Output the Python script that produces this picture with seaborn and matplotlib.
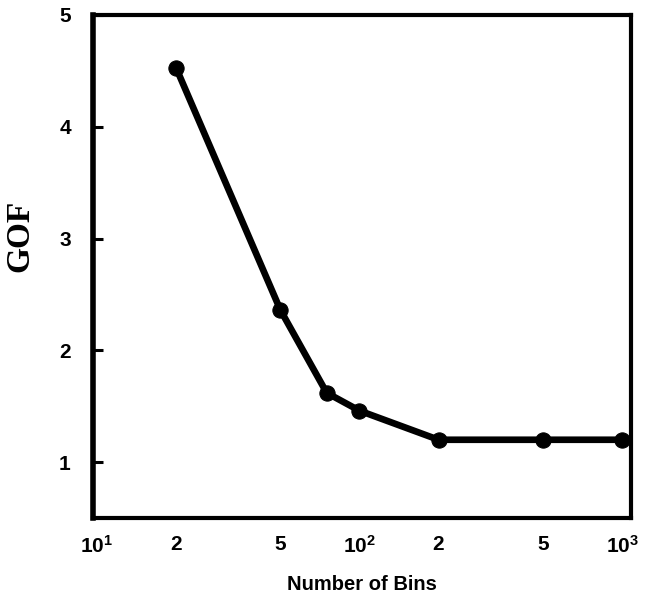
import matplotlib
matplotlib.use("Agg")
import matplotlib.pyplot as plt
import matplotlib.transforms as mtransforms
import seaborn as sns
import pandas as pd

# data
bins = [20, 50, 75, 100, 200, 500, 1000]
gof = [4.53, 2.36, 1.62, 1.46, 1.20, 1.20, 1.20]
x_ticks = [10, 20, 50, 100, 200, 500, 1000]
x_ticklabels = [r"$\mathbf{10^{1}}$", "2", "5", r"$\mathbf{10^{2}}$", "2", "5", r"$\mathbf{10^{3}}$"]
y_ticks = [1, 2, 3, 4, 5]

sns.set_style("ticks")
plt.rcParams["font.family"] = ["Liberation Sans", "DejaVu Sans"]
plt.rcParams["mathtext.fontset"] = "custom"
plt.rcParams["mathtext.bf"] = "Liberation Sans:bold"
plt.rcParams["mathtext.rm"] = "Liberation Sans:bold"

df = pd.DataFrame({"bins": bins, "gof": gof})

fig = plt.figure(figsize=(6.49, 5.98), dpi=100)
ax = fig.add_axes([93/649, 1-518/598, (631-93)/649, (518-15)/598])

sns.lineplot(data=df, x="bins", y="gof", ax=ax, color="black", linewidth=4.8,
             marker="o", markersize=11, markeredgecolor="black", markerfacecolor="black")

ax.set_xscale("log")
ax.set_xlim(9.66, 1082)
ax.set_ylim(0.5, 5.0)
ax.set_xticks(x_ticks)
ax.set_xticklabels(x_ticklabels)
ax.xaxis.set_minor_locator(matplotlib.ticker.NullLocator())
ax.set_yticks(y_ticks)
ax.set_yticklabels([str(v) for v in y_ticks])

shift = mtransforms.ScaledTranslation(5/100, 0, fig.dpi_scale_trans)
for lab in ax.get_xticklabels():
    lab.set_transform(lab.get_transform() + shift)

for lab in ax.get_xticklabels() + ax.get_yticklabels():
    lab.set_fontweight("bold")
    lab.set_fontsize(15)
    lab.set_color("black")

ax.tick_params(axis="x", length=0, pad=12)
ax.tick_params(axis="y", direction="in", length=7, width=2.2, pad=16, color="black")

for side in ["top", "right", "bottom", "left"]:
    ax.spines[side].set_visible(True)
    ax.spines[side].set_color("black")
    ax.spines[side].set_linewidth(3)
ax.spines["left"].set_linewidth(4)

ax.set_xlabel("Number of Bins", fontsize=14.5, fontweight="bold", labelpad=13, color="black")
ax.set_ylabel("GOF", fontsize=24, fontweight="bold", family=["Liberation Serif"], color="black")
ax.yaxis.set_label_coords(-0.108, 0.56)

fig.savefig("out.png", dpi=100)
